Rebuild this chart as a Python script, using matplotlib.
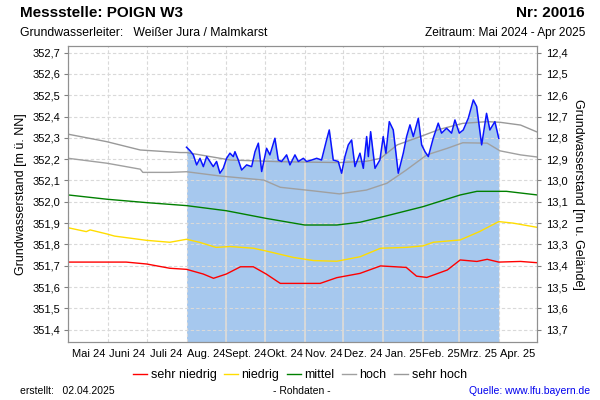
import numpy as np
import matplotlib
import matplotlib.pyplot as plt
from matplotlib.ticker import FuncFormatter

matplotlib.use('Agg')
plt.rcParams['font.family'] = ['Liberation Sans', 'DejaVu Sans']

# days since 01.05.2024
month_labels = ['Mai 24', 'Juni 24', 'Juli 24', 'Aug. 24', 'Sept. 24', 'Okt. 24',
                'Nov. 24', 'Dez. 24', 'Jan. 25', 'Feb. 25', 'Mrz. 25', 'Apr. 25']

sehr_niedrig_days = [0, 45, 61, 79, 92, 105, 113, 123, 134, 144, 154, 165, 196, 209, 227,
                     243, 263, 271, 279, 295, 305, 318, 326, 335, 352, 365]
sehr_niedrig = [351.717, 351.717, 351.708, 351.688, 351.683, 351.661, 351.641, 351.661,
                351.695, 351.695, 351.661, 351.617, 351.617, 351.644, 351.664, 351.699,
                351.692, 351.651, 351.645, 351.680, 351.727, 351.720, 351.730, 351.717,
                351.720, 351.714]

niedrig_days = [0, 14, 17, 30, 36, 61, 79, 92, 102, 115, 126, 144, 154, 175, 191, 209,
                227, 243, 263, 276, 284, 305, 320, 335, 346, 365]
niedrig = [351.878, 351.860, 351.868, 351.849, 351.839, 351.819, 351.810, 351.824,
           351.810, 351.786, 351.790, 351.782, 351.769, 351.739, 351.724, 351.721,
           351.742, 351.782, 351.786, 351.793, 351.810, 351.821, 351.860, 351.907,
           351.900, 351.880]

mittel_days = [0, 30, 61, 92, 123, 154, 184, 209, 227, 245, 276, 305, 318, 341, 365]
mittel = [352.032, 352.012, 351.996, 351.982, 351.958, 351.922, 351.891, 351.891,
          351.904, 351.930, 351.977, 352.032, 352.049, 352.049, 352.032]

hoch_days = [0, 30, 56, 58, 79, 92, 118, 152, 165, 191, 211, 232, 248, 263, 279, 295,
             307, 326, 336, 352, 365]
hoch = [352.204, 352.181, 352.153, 352.138, 352.138, 352.141, 352.121, 352.102, 352.068,
        352.051, 352.037, 352.055, 352.087, 352.149, 352.220, 352.251, 352.277, 352.275,
        352.239, 352.220, 352.210]

sehr_hoch_days = [0, 30, 56, 87, 92, 126, 165, 211, 232, 243, 256, 274, 289, 307, 326,
                  336, 352, 365]
sehr_hoch = [352.317, 352.282, 352.243, 352.231, 352.231, 352.196, 352.188, 352.184,
             352.190, 352.204, 352.267, 352.306, 352.340, 352.368, 352.376, 352.373,
             352.360, 352.327]

mess_days = [92.0, 94.7, 97.3, 99.9, 102.5, 105.1, 107.7, 110.2, 112.8, 115.4, 118.0,
             120.6, 123.2, 125.8, 128.4, 129.7, 132.3, 134.9, 138.8, 142.7, 145.3, 147.9,
             150.5, 154.3, 156.9, 160.8, 163.4, 166.0, 169.9, 172.5, 176.4, 179.0, 182.9,
             185.5, 189.4, 193.3, 197.1, 201.0, 203.1, 206.2, 210.1, 212.7, 215.3, 217.9,
             220.5, 223.1, 227.0, 229.6, 232.2, 233.5, 235.3, 238.7, 242.5, 245.1, 247.2,
             249.8, 252.9, 256.8, 260.7, 263.3, 265.9, 268.5, 272.4, 275.0, 277.6, 280.2,
             284.0, 287.9, 290.5, 294.4, 298.3, 300.9, 304.3, 307.4, 311.3, 315.2, 317.8,
             321.7, 325.5, 328.1, 332.0, 335.0]
mess = [352.256, 352.240, 352.220, 352.173, 352.204, 352.165, 352.212, 352.189, 352.165,
        352.189, 352.134, 352.157, 352.204, 352.228, 352.212, 352.235, 352.196, 352.149,
        352.173, 352.165, 352.235, 352.275, 352.142, 352.251, 352.220, 352.298, 352.196,
        352.189, 352.220, 352.173, 352.220, 352.189, 352.204, 352.189, 352.196, 352.204,
        352.196, 352.290, 352.337, 352.196, 352.189, 352.134, 352.212, 352.267, 352.290,
        352.165, 352.228, 352.157, 352.306, 352.212, 352.329, 352.157, 352.196, 352.306,
        352.228, 352.376, 352.337, 352.134, 352.228, 352.306, 352.361, 352.306, 352.392,
        352.267, 352.235, 352.212, 352.298, 352.369, 352.322, 352.345, 352.322, 352.384,
        352.322, 352.337, 352.392, 352.478, 352.447, 352.267, 352.415, 352.337, 352.376,
        352.298]

gelaende = 365.1
ymin, ymax = 351.342, 352.731

months = np.arange('2024-05', '2025-06', dtype='datetime64[M]').astype('datetime64[D]')
month_days = (months - np.datetime64('2024-05-01')).astype(int)
mid_days = (month_days[:-1] + month_days[1:]) / 2

fig = plt.figure(figsize=(6, 4), dpi=100)
ax = fig.add_axes([68.3 / 600, 1 - 342 / 400, 469 / 600, 296 / 400])

ax.set_xlim(month_days[0], month_days[-1])
ax.set_ylim(ymin, ymax)
ax.set_yticks(np.arange(351.4, 352.75, 0.1))
ax.yaxis.set_major_formatter(FuncFormatter(lambda v, p: f'{v:.1f}'.replace('.', ',')))
ax.set_xticks(month_days)
ax.set_xticklabels([])
ax.set_xticks(mid_days, minor=True)
ax.set_xticklabels(month_labels, minor=True)
ax.tick_params(axis='x', which='both', length=0, labelsize=8, pad=5)
ax.tick_params(axis='y', length=3, color='#808080', labelsize=8, pad=3)
ax.grid(True, which='major', color='#d9d9d9', ls=(0, (3, 2)), lw=0.8, zorder=0)

ax.fill_between(mess_days, mess, ymin, color='#a6c8ee', lw=0, zorder=1)
inner = month_days[(month_days > mess_days[0]) & (month_days < mess_days[-1])]
ax.vlines(inner, ymin, np.interp(inner, mess_days, mess), color='#dadada', lw=1.3, zorder=1.5)

ax.plot(sehr_niedrig_days, sehr_niedrig, color='#ff0000', lw=1, label='sehr niedrig', zorder=2)
ax.plot(niedrig_days, niedrig, color='#ffdd00', lw=1, label='niedrig', zorder=2)
ax.plot(mittel_days, mittel, color='#008000', lw=1, label='mittel', zorder=2)
ax.plot(hoch_days, hoch, color='#a0a0a0', lw=1, label='hoch', zorder=2)
ax.plot(sehr_hoch_days, sehr_hoch, color='#999999', lw=1, label='sehr hoch', zorder=2)
ax.plot(mess_days, mess, color='#0a14ff', lw=1.1, zorder=3)

for s in ax.spines.values():
    s.set_color('#909090')

ax2 = ax.twinx()
ax2.set_ylim(gelaende - ymin, gelaende - ymax)
ax2.set_yticks(np.arange(12.4, 13.75, 0.1))
ax2.yaxis.set_major_formatter(FuncFormatter(lambda v, p: f'{v:.1f}'.replace('.', ',')))
ax2.tick_params(axis='y', length=3, color='#808080', labelsize=8, pad=3)
for s in ax2.spines.values():
    s.set_color('#909090')

ax.set_ylabel('Grundwasserstand [m ü. NN]', fontsize=9, labelpad=4)
ax2.set_ylabel('Grundwasserstand [m u. Gelände]', fontsize=9, rotation=270, labelpad=12)

handles, labels = ax.get_legend_handles_labels()
fig.legend(handles, labels, loc='center', bbox_to_anchor=(0.5, 0.0625), ncol=5,
           frameon=False, fontsize=9, handlelength=1.1, handletextpad=0.3,
           columnspacing=0.6)

fig.text(20 / 600, 1 - 13 / 400, 'Messstelle: POIGN W3', fontsize=11, fontweight='bold',
         va='center')
fig.text(585 / 600, 1 - 13 / 400, 'Nr: 20016', fontsize=11, fontweight='bold',
         va='center', ha='right')
fig.text(20 / 600, 1 - 33 / 400, 'Grundwasserleiter:   Weißer Jura / Malmkarst',
         fontsize=8.8, va='center')
fig.text(585 / 600, 1 - 33 / 400, 'Zeitraum: Mai 2024 - Apr 2025', fontsize=8.6,
         va='center', ha='right')
fig.text(20 / 600, 1 - 391 / 400, 'erstellt:   02.04.2025', fontsize=7.5, va='center')
fig.text(302 / 600, 1 - 391 / 400, '- Rohdaten -', fontsize=7.5, va='center', ha='center')
fig.text(590 / 600, 1 - 391 / 400, 'Quelle: www.lfu.bayern.de', fontsize=7.5,
         va='center', ha='right', color='#0000ee')

fig.savefig('out.png', dpi=100)
